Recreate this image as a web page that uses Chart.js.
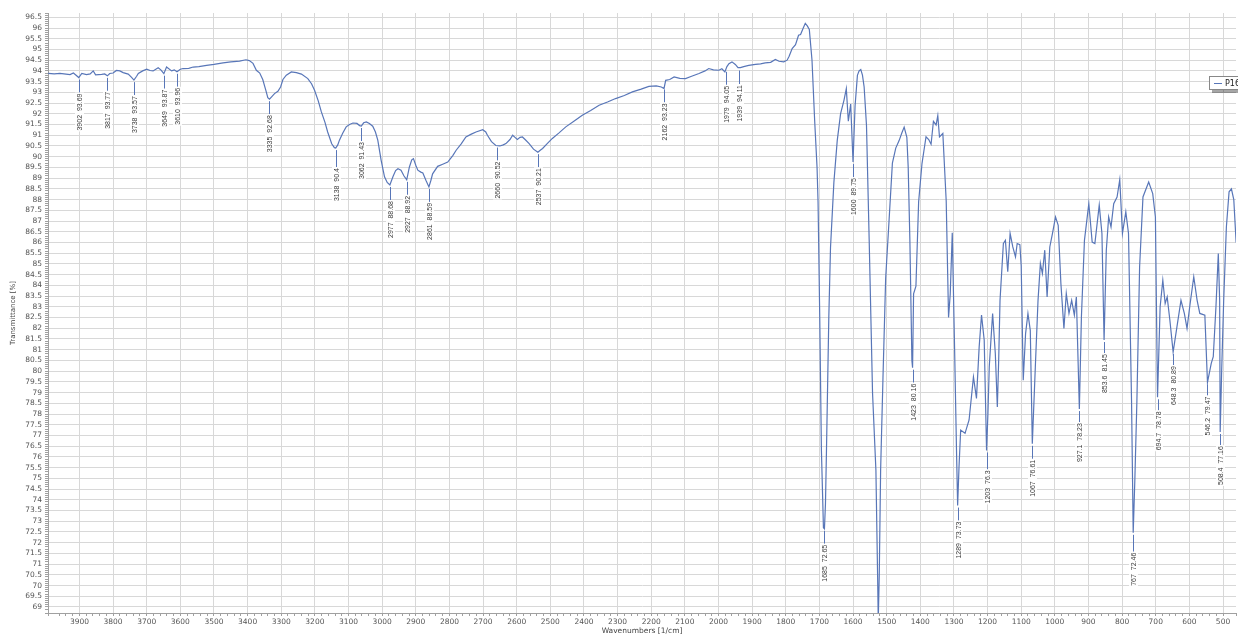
<!DOCTYPE html>
<html>
<head>
<meta charset="utf-8">
<script src="https://cdn.jsdelivr.net/npm/chart.js@4"></script>
<style>
html,body{margin:0;padding:0;background:#fff;}
#wrap{width:1238px;height:637px;position:relative;}
</style>
</head>
<body>
<div id="wrap"><canvas id="c"></canvas></div>
<script>
const wavenumbers = [
3993,3975,3958,3940,3928,3918,3910,3902,3893,3879,3868,3859,3852,3834,3825,3817,3810,3800,3790,3780,
3770,3755,3745,3738,3730,3725,3712,3700,3690,3681,3666,3658,3649,3641,3626,3618,3610,3600,3592,3575,
3562,3545,3522,3500,3473,3450,3424,3405,3395,3384,3374,3364,3355,3346,3340,3335,3328,3320,3310,3302,
3295,3285,3270,3255,3240,3221,3210,3201,3190,3181,3170,3162,3150,3142,3138,3132,3127,3117,3107,3097,
3087,3075,3067,3062,3055,3047,3038,3028,3020,3013,3003,2993,2985,2977,2968,2960,2953,2944,2935,2927,
2919,2912,2907,2900,2894,2885,2879,2870,2861,2855,2850,2835,2820,2805,2790,2780,2765,2751,2735,2721,
2701,2692,2687,2675,2662,2650,2640,2632,2620,2612,2605,2598,2590,2583,2575,2563,2550,2537,2530,2523,
2510,2494,2475,2454,2430,2405,2380,2355,2330,2306,2280,2256,2230,2207,2185,2170,2162,2157,2145,2132,
2115,2098,2080,2058,2040,2029,2015,1999,1990,1981,1975,1969,1960,1950,1942,1935,1925,1910,1890,1875,
1861,1845,1831,1820,1806,1796,1790,1781,1771,1762,1756,1748,1742,1736,1730,1722,1714,1707,1704,1699,
1694,1688,1685,1682,1679,1672,1667,1657,1647,1637,1627,1620,1614,1607,1600,1594,1587,1582,1577,1572,
1567,1560,1552,1542,1532,1527,1525,1522,1518,1511,1503,1493,1483,1473,1463,1455,1448,1440,1436,1431,
1425,1423,1420,1413,1405,1395,1383,1375,1368,1361,1353,1348,1343,1333,1323,1316,1311,1305,1298,1292,
1289,1285,1280,1267,1255,1242,1233,1225,1218,1210,1206,1203,1199,1195,1185,1177,1171,1167,1163,1153,
1147,1140,1133,1125,1117,1112,1104,1100,1094,1087,1080,1073,1067,1058,1050,1043,1037,1030,1023,1015,
1007,998,990,982,973,966,958,950,942,936,927.1,921,912,899,889,881,868,860,853.6,847,
840,833,825,815,807,799,789,781,772,767,762,756,748,738,721,709,701,697,694.7,687,
679,672,666,658,648.3,637,625,615,607,599,587,577,569,554,546.2,535,529,521,514,510,
508.4,504,498,490,482,475,468,461
];
const transmittance = [
93.88,93.86,93.88,93.85,93.83,93.9,93.8,93.69,93.88,93.83,93.86,94.0,93.82,93.84,93.86,93.77,93.88,93.9,94.02,94.0,
93.92,93.85,93.7,93.57,93.75,93.88,94.0,94.08,94.02,94.0,94.15,94.05,93.87,94.18,94.0,94.05,93.96,94.08,94.11,94.12,
94.18,94.2,94.26,94.3,94.37,94.42,94.46,94.52,94.48,94.35,94.03,93.9,93.6,93.1,92.75,92.68,92.8,92.94,93.05,93.25,
93.6,93.8,93.95,93.92,93.85,93.64,93.4,93.1,92.6,92.1,91.6,91.15,90.6,90.42,90.4,90.55,90.77,91.1,91.39,91.5,
91.57,91.55,91.45,91.43,91.58,91.62,91.55,91.42,91.15,90.77,89.83,89.06,88.8,88.68,89.06,89.35,89.44,89.37,89.1,88.92,
89.52,89.85,89.91,89.6,89.37,89.28,89.24,88.9,88.59,88.9,89.2,89.55,89.65,89.75,90.05,90.3,90.6,90.92,91.05,91.15,
91.26,91.15,91.0,90.7,90.52,90.5,90.55,90.61,90.8,91.0,90.9,90.8,90.9,90.92,90.8,90.61,90.35,90.21,90.3,90.38,
90.6,90.85,91.1,91.39,91.65,91.93,92.15,92.4,92.55,92.71,92.85,93.02,93.15,93.28,93.3,93.25,93.18,93.56,93.6,93.72,
93.65,93.64,93.75,93.88,94.0,94.11,94.05,94.03,94.1,93.95,94.2,94.34,94.42,94.3,94.15,94.15,94.2,94.26,94.3,94.33,
94.37,94.4,94.53,94.45,94.42,94.5,94.68,95.04,95.22,95.66,95.7,96.0,96.22,96.1,95.93,94.5,91.65,89.5,87.89,82.54,
76.29,72.7,72.65,73.8,76.29,82.54,85.75,88.79,90.75,92.01,92.63,93.17,91.65,92.45,89.75,92.36,93.79,94.0,94.06,93.8,
93.25,91.46,86.1,78.97,75.38,70.5,68.4,70.5,75.38,79.68,84.33,87.0,89.7,90.4,90.75,91.1,91.38,90.9,89.5,86.1,
80.5,80.16,83.6,83.96,87.89,89.68,90.93,90.8,90.58,91.65,91.48,91.91,90.92,91.08,87.93,82.5,83.6,86.45,81.0,76.0,
73.73,75.5,77.25,77.1,77.72,79.73,78.73,81.13,82.61,81.44,78.5,76.3,78.0,80.2,82.69,80.82,78.33,80.5,83.3,85.95,
86.1,84.63,86.42,85.79,85.33,85.95,85.9,84.9,79.58,81.75,82.69,81.9,76.61,80.2,83.3,85.02,84.55,85.64,83.46,85.79,
86.42,87.19,86.8,84.08,81.99,83.62,82.69,83.3,82.61,83.46,78.23,82.53,86.1,87.81,86.02,85.95,87.74,86.42,81.45,85.64,
87.19,86.72,87.81,88.12,88.93,86.42,87.43,86.42,78.64,72.46,75.0,78.64,84.86,88.12,88.82,88.28,87.19,81.75,78.78,82.99,
84.24,83.15,83.46,82.37,80.89,82.06,83.3,82.69,81.99,83.0,84.4,83.3,82.69,82.61,79.47,80.36,80.67,83.0,85.48,83.3,
77.16,80.0,83.3,86.72,88.36,88.5,88.0,86.0
];
const peakWavenumbers = [3902,3817,3738,3649,3610,3335,3138,3062,2977,2927,2861,2660,2537,2162,1979,1939,1685,1600,1423,1289,1203,1067,927.1,853.6,767,694.7,648.3,546.2,508.4];
const peakValues = [93.69,93.77,93.57,93.87,93.96,92.68,90.4,91.43,88.68,88.92,88.59,90.52,90.21,93.23,94.05,94.11,72.65,89.75,80.16,73.73,76.3,76.61,78.23,81.45,72.46,78.78,80.89,79.47,77.16];
const seriesName = 'P16';
const xTitle = 'Wavenumbers [1/cm]';
const yTitle = 'Transmittance [%]';
const xRange = [461.4, 3993.5];
const yRange = [68.72, 96.7];

const lineColor = 'rgb(88,118,184)';
const points = wavenumbers.map((w, i) => ({x: w, y: transmittance[i]}));

function isMult(v, step) {
  const r = v / step;
  return Math.abs(r - Math.round(r)) < 1e-6;
}

const peakPlugin = {
  id: 'peaks',
  afterDatasetsDraw(chart) {
    const {ctx, scales: {x, y}} = chart;
    ctx.save();
    ctx.font = '7px "Liberation Sans", Arial, sans-serif';
    for (let i = 0; i < peakWavenumbers.length; i++) {
      const px = Math.round(x.getPixelForValue(peakWavenumbers[i])) + 0.5;
      const py = y.getPixelForValue(peakValues[i]);
      const label = peakWavenumbers[i] + '  ' + peakValues[i];
      const w = ctx.measureText(label).width;
      const base = py + 53;
      const top = base - w;
      ctx.strokeStyle = lineColor;
      ctx.lineWidth = 1;
      ctx.beginPath();
      ctx.moveTo(px, py + 2);
      ctx.lineTo(px, top - 1);
      ctx.stroke();
      ctx.save();
      ctx.translate(px, base);
      ctx.rotate(-Math.PI / 2);
      ctx.fillStyle = 'rgba(255,255,255,0.9)';
      ctx.fillRect(-1, -4.5, w + 2, 9);
      ctx.fillStyle = '#3a3a3a';
      ctx.textAlign = 'left';
      ctx.textBaseline = 'middle';
      ctx.fillText(label, 0, 0.5);
      ctx.restore();
    }
    ctx.restore();
  }
};

const legendPlugin = {
  id: 'customLegend',
  afterDraw(chart) {
    const {ctx} = chart;
    ctx.save();
    ctx.fillStyle = 'rgba(0,0,0,0.35)';
    ctx.fillRect(1212, 79, 40, 14);
    ctx.fillStyle = '#fff';
    ctx.fillRect(1209.5, 76.5, 40, 13);
    ctx.strokeStyle = '#888';
    ctx.lineWidth = 1;
    ctx.strokeRect(1209.5, 76.5, 40, 13);
    ctx.strokeStyle = lineColor;
    ctx.beginPath();
    ctx.moveTo(1214, 83.5);
    ctx.lineTo(1222, 83.5);
    ctx.stroke();
    ctx.fillStyle = '#222';
    ctx.font = '8px "DejaVu Sans", sans-serif';
    ctx.textBaseline = 'middle';
    ctx.fillText(seriesName, 1225, 83.5);
    ctx.restore();
  }
};

new Chart(document.getElementById('c'), {
  type: 'line',
  data: {
    datasets: [{
      label: seriesName,
      data: points,
      borderColor: lineColor,
      borderWidth: 1.2,
      pointRadius: 0,
      fill: false,
      tension: 0
    }]
  },
  options: {
    responsive: true,
    maintainAspectRatio: false,
    animation: false,
    layout: {padding: {top: 13, left: 0, right: 0, bottom: 0}},
    plugins: {legend: {display: false}, tooltip: {enabled: false}},
    scales: {
      x: {
        type: 'linear',
        reverse: true,
        min: xRange[0],
        max: xRange[1],
        afterFit(s) { s.height = 24; },
        border: {display: true, color: '#a0a0a0', width: 1},
        grid: {
          color: (c) => (c.tick && isMult(c.tick.value, 100)) ? '#d8d8d8' : 'rgba(0,0,0,0)',
          tickColor: '#a0a0a0',
          tickLength: 3,
          lineWidth: 1
        },
        ticks: {
          stepSize: 20,
          autoSkip: false,
          maxRotation: 0,
          padding: 2,
          color: '#555',
          font: {family: '"DejaVu Sans", sans-serif', size: 7.5},
          callback: (v) => isMult(v, 100) ? String(Math.round(v)) : ''
        },
        title: {
          display: true,
          text: xTitle,
          color: '#444',
          font: {family: '"DejaVu Sans", sans-serif', size: 7.5},
          padding: {top: 0, bottom: 1.5}
        }
      },
      y: {
        type: 'linear',
        min: yRange[0],
        max: yRange[1],
        afterFit(s) { s.width = 48; },
        border: {display: true, color: '#a0a0a0', width: 1},
        grid: {
          color: (c) => (c.tick && isMult(c.tick.value, 0.5)) ? '#d8d8d8' : 'rgba(0,0,0,0)',
          tickColor: '#a0a0a0',
          tickLength: 3,
          lineWidth: 1
        },
        ticks: {
          stepSize: 0.1,
          autoSkip: false,
          padding: 3,
          color: '#555',
          font: {family: '"DejaVu Sans", sans-serif', size: 7.5},
          callback: (v) => isMult(v, 0.5) ? String(Math.round(v * 10) / 10) : ''
        },
        title: {
          display: true,
          text: yTitle,
          color: '#444',
          font: {family: '"DejaVu Sans", sans-serif', size: 7},
          padding: {top: 9, bottom: 0}
        }
      }
    }
  },
  plugins: [peakPlugin, legendPlugin]
});
</script>
</body>
</html>
